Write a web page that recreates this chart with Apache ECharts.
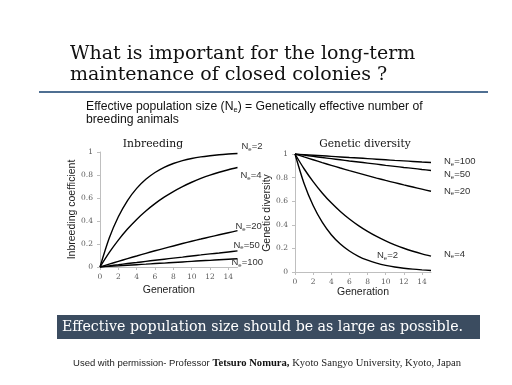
<!DOCTYPE html>
<html><head><meta charset="utf-8">
<script src="https://cdn.jsdelivr.net/npm/echarts@6/dist/echarts.min.js"></script>
<style>html,body{margin:0;padding:0;background:#fff}#c{width:512px;height:385px}</style>
</head><body><div id="c"></div>
<script>
const generations = [0,1,2,3,4,5,6,7,8,9,10,11,12,13,14,15];
const neLabels = ['2','4','20','50','100'];
// Inbreeding coefficient
const inbreedNe2   = [0,0.25,0.437,0.578,0.684,0.763,0.822,0.867,0.9,0.925,0.944,0.958,0.968,0.976,0.982,0.987];
const inbreedNe4   = [0,0.125,0.234,0.33,0.414,0.487,0.551,0.607,0.656,0.699,0.737,0.77,0.799,0.824,0.846,0.865];
const inbreedNe20  = [0,0.025,0.049,0.073,0.096,0.119,0.141,0.162,0.183,0.204,0.224,0.243,0.262,0.28,0.298,0.316];
const inbreedNe50  = [0,0.01,0.02,0.03,0.039,0.049,0.059,0.068,0.077,0.086,0.096,0.105,0.114,0.122,0.131,0.14];
const inbreedNe100 = [0,0.005,0.01,0.015,0.02,0.025,0.03,0.034,0.039,0.044,0.049,0.054,0.058,0.063,0.068,0.072];
// Genetic diversity
const diversityNe2   = [1,0.75,0.563,0.422,0.316,0.237,0.178,0.133,0.1,0.075,0.056,0.042,0.032,0.024,0.018,0.013];
const diversityNe4   = [1,0.875,0.766,0.67,0.586,0.513,0.449,0.393,0.344,0.301,0.263,0.23,0.201,0.176,0.154,0.135];
const diversityNe20  = [1,0.975,0.951,0.927,0.904,0.881,0.859,0.838,0.817,0.796,0.776,0.757,0.738,0.72,0.702,0.684];
const diversityNe50  = [1,0.99,0.98,0.97,0.961,0.951,0.941,0.932,0.923,0.914,0.904,0.895,0.886,0.878,0.869,0.86];
const diversityNe100 = [1,0.995,0.99,0.985,0.98,0.975,0.97,0.966,0.961,0.956,0.951,0.946,0.942,0.937,0.932,0.928];

const chart = echarts.init(document.getElementById('c'));
const pair = a => a.map((v,i)=>[generations[i], v]);
const labRich = {
  n:{fontFamily:'Liberation Sans',fontSize:9.5,color:'#333'},
  s:{fontFamily:'Liberation Sans',fontSize:6,color:'#333',verticalAlign:'bottom',padding:[5,0,0,0]}
};
function series(data, xi, ne, offset){
  return {type:'line', xAxisIndex:xi, yAxisIndex:xi, data:pair(data), showSymbol:false, symbol:'none',
    smooth:0.3, lineStyle:{color:'#000',width:1.4}, silent:true, animation:false,
    endLabel:{show:true, formatter:'{n|N}{s|e}{n|='+ne+'}', rich:labRich, offset:offset, align:'left'}};
}
const axisCommonX = {type:'value', min:0, max:15, interval:2,
  axisLine:{show:true,lineStyle:{color:'#bfbfbf'}}, axisTick:{show:true,length:3,lineStyle:{color:'#bfbfbf'}},
  splitLine:{show:false}, axisLabel:{showMaxLabel:false,fontFamily:'DejaVu Serif',fontSize:7.5,color:'#595959',margin:6},
  name:'Generation', nameLocation:'middle', nameTextStyle:{fontFamily:'Liberation Sans',fontSize:10.5,color:'#222'}};
const axisCommonY = {type:'value', min:0, max:1, interval:0.2,
  axisLine:{show:true,lineStyle:{color:'#bfbfbf'}}, axisTick:{show:true,length:3,lineStyle:{color:'#bfbfbf'}},
  splitLine:{show:false}, axisLabel:{fontFamily:'DejaVu Serif',fontSize:7.5,color:'#595959',margin:7,
    formatter:v=>String(+v.toFixed(1))},
  nameLocation:'middle', nameTextStyle:{fontFamily:'Liberation Sans',fontSize:10.5,color:'#222'}};

chart.setOption({
  animation:false,
  grid:[{left:100, top:152, width:137.5, height:115},{left:295, top:154, width:136, height:118}],
  xAxis:[Object.assign({},axisCommonX,{gridIndex:0,nameGap:18}), Object.assign({},axisCommonX,{gridIndex:1,nameGap:13})],
  yAxis:[Object.assign({},axisCommonY,{gridIndex:0,name:'Inbreeding coefficient',nameGap:17}),
         Object.assign({},axisCommonY,{gridIndex:1,name:'Genetic diversity',nameGap:19})],
  series:[
    series(inbreedNe2,0,neLabels[0],[-4,-7]),
    series(inbreedNe4,0,neLabels[1],[-5,8]),
    series(inbreedNe20,0,neLabels[2],[-10,-4]),
    series(inbreedNe50,0,neLabels[3],[-12,-6]),
    series(inbreedNe100,0,neLabels[4],[-14,4]),
    series(diversityNe2,1,neLabels[0],[-62,-15]),
    series(diversityNe4,1,neLabels[1],[5,-2]),
    series(diversityNe20,1,neLabels[2],[5,0]),
    series(diversityNe50,1,neLabels[3],[5,4]),
    series(diversityNe100,1,neLabels[4],[5,-1])
  ],
  graphic:[
    {type:'text', left:70, top:44, style:{text:'What is important for the long-term\nmaintenance of closed colonies ?', font:'19px "DejaVu Serif"', fill:'#111', lineHeight:21}},
    {type:'rect', shape:{x:39,y:91,width:449,height:2}, style:{fill:'#4f6f92'}},
    {type:'text', left:86, top:101, style:{text:'{a|Effective population size (N}{s|e}{a|) = Genetically effective number of}\n{a|breeding animals}',
      rich:{a:{fontFamily:'Liberation Sans',fontSize:12.2,fill:'#111',lineHeight:13},s:{fontFamily:'Liberation Sans',fontSize:7.5,fill:'#111',verticalAlign:'bottom',lineHeight:13,padding:[3,0,0,0]}}}},
    {type:'text', x:153, y:144, style:{text:'Inbreeding', font:'10.8px "DejaVu Serif"', fill:'#111', textAlign:'center', textVerticalAlign:'middle'}},
    {type:'text', x:365, y:144, style:{text:'Genetic diversity', font:'10.6px "DejaVu Serif"', fill:'#111', textAlign:'center', textVerticalAlign:'middle'}},
    {type:'rect', shape:{x:57,y:315,width:423,height:24}, style:{fill:'#3b4c60'}},
    {type:'text', x:62, y:327, style:{text:'Effective population size should be as large as possible.', font:'14.2px "DejaVu Serif"', fill:'#fff', textVerticalAlign:'middle'}},
    {type:'text', x:267, y:363, style:{text:'{a|Used with permission- Professor }{b|Tetsuro Nomura,}{c| Kyoto Sangyo University, Kyoto, Japan}', textAlign:'center', textVerticalAlign:'middle',
      rich:{a:{fontFamily:'Liberation Sans',fontSize:9.5,fill:'#222'},b:{fontFamily:'Liberation Serif',fontWeight:'bold',fontSize:10.6,fill:'#111'},c:{fontFamily:'Liberation Serif',fontSize:10.6,fill:'#222'}}}}
  ]
});
</script></body></html>
